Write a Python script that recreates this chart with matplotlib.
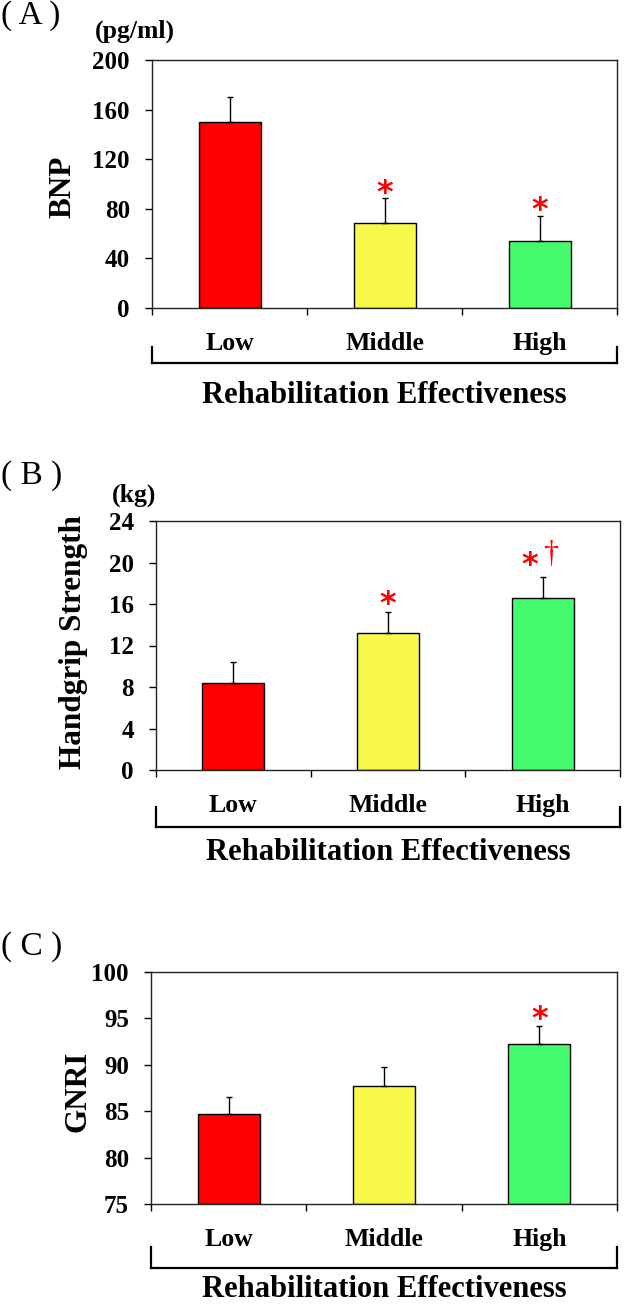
import matplotlib
matplotlib.use("Agg")
import matplotlib.pyplot as plt
from matplotlib.lines import Line2D
from matplotlib.transforms import blended_transform_factory

# ---------------- data ----------------
categories = ["Low", "Middle", "High"]
bar_colors = ["#FF0000", "#F8F84A", "#46FA6E"]

bnp_mean = [150.3, 68.5, 54.0]
bnp_sd = [20.2, 20.4, 20.4]
grip_mean = [8.4, 13.2, 16.6]
grip_sd = [2.05, 2.05, 2.0]
gnri_mean = [84.65, 87.75, 92.2]
gnri_sd = [1.9, 2.05, 2.0]

bnp_ticks = [0, 40, 80, 120, 160, 200]
grip_ticks = [0, 4, 8, 12, 16, 20, 24]
gnri_ticks = [75, 80, 85, 90, 95, 100]

# significance markers: (category index, y value, text)
bnp_sig = [(1, 98.6, "*"), (2, 84.6, "*")]
grip_sig = [(1, 16.7, "*"), (1.918, 20.43, "*")]
gnri_sig = [(2, 95.7, "*")]

W, H = 626, 1304
fig = plt.figure(figsize=(W / 100, H / 100), dpi=100)

SERIF = "Liberation Serif"


def fx(x):
    return x / W


def fy(y):
    return 1 - y / H


def make_panel(rect_px, means, sds, ticks, ylim, ylabel, ylabel_xy, sig,
               letter, letter_y, unit=None, unit_xy=None,
               cat_pad=18, bracket=(0, 0), xlabel_base=0):
    l, t, r, b = rect_px
    ax = fig.add_axes([fx(l), fy(b), fx(r) - fx(l), (b - t) / H])
    x = list(range(len(categories)))
    ax.bar(x, [m - ylim[0] for m in means], bottom=ylim[0], width=0.4,
           color=bar_colors, edgecolor="black", linewidth=1.0, zorder=2)
    ax.errorbar(x, means, yerr=[[0] * len(sds), sds], fmt="none",
                ecolor="black", elinewidth=1.0, capsize=2.5, capthick=1.0,
                zorder=3)
    ax.set_xlim(-0.5, 2.5)
    ax.set_ylim(*ylim)
    ax.set_yticks(ticks)
    ax.set_yticklabels([str(v) for v in ticks], fontfamily=SERIF,
                       fontweight="bold", fontsize=18)
    ax.set_xticks(x)
    ax.set_xticklabels(categories, fontfamily=SERIF, fontweight="bold",
                       fontsize=18.5)
    ax.set_xticks([-0.5, 0.5, 1.5, 2.5], minor=True)
    ax.tick_params(axis="x", which="major", length=0, pad=cat_pad)
    ax.tick_params(axis="x", which="minor", direction="out", length=5,
                   width=1.0)
    ax.tick_params(axis="y", direction="out", length=5, width=1.0, pad=11)
    for s in ax.spines.values():
        s.set_linewidth(1.0)
        s.set_color("#222222")
    # significance markers
    for (i, yv, txt) in sig:
        ax.annotate(txt, xy=(i, yv), xytext=(0, -11.5),
                    textcoords="offset points", ha="center", va="baseline",
                    color="#FF0000", fontsize=23, fontweight="bold",
                    fontfamily="DejaVu Sans", annotation_clip=False)
    # bracket
    y0, y1 = bracket
    tr = blended_transform_factory(ax.transAxes, fig.transFigure)
    for xx in (0, 1):
        fig.add_artist(Line2D([xx, xx], [fy(y0), fy(y1)], transform=tr,
                              color="black", lw=1.6))
    fig.add_artist(Line2D([0, 1], [fy(y1), fy(y1)], transform=tr,
                          color="black", lw=1.6))
    # xlabel
    fig.text(fx((l + r) / 2), fy(xlabel_base), "Rehabilitation Effectiveness",
             ha="center", va="baseline", fontfamily=SERIF, fontweight="bold",
             fontsize=22)
    # ylabel
    fig.text(fx(ylabel_xy[0]), fy(ylabel_xy[1]), ylabel, rotation=90,
             ha="center", va="center", fontfamily=SERIF, fontweight="bold",
             fontsize=22.5)
    # panel letter
    fig.text(fx(1), fy(letter_y), letter, ha="left", va="center",
             fontfamily=SERIF, fontsize=24)
    if unit:
        fig.text(fx(unit_xy[0]), fy(unit_xy[1]), unit, ha="left",
                 va="center", fontfamily=SERIF, fontweight="bold",
                 fontsize=18.5)
    return ax


axA = make_panel((152, 60, 617, 308), bnp_mean, bnp_sd, bnp_ticks, (0, 200),
                 "BNP", (63, 187), bnp_sig, "( A )", 16,
                 unit="(pg/ml)", unit_xy=(95, 31), cat_pad=17,
                 bracket=(347, 363), xlabel_base=403)

axB = make_panel((156, 521, 620, 770), grip_mean, grip_sd, grip_ticks, (0, 24),
                 "Handgrip Strength", (73, 642), grip_sig, "( B )", 476,
                 unit="(kg)", unit_xy=(112, 495), cat_pad=17,
                 bracket=(807, 827), xlabel_base=860)
# dagger beside the asterisk of the High group
axB.annotate("\u2020", xy=(2.0, 20.05), ha="left", va="baseline",
             color="#FF0000", fontsize=22, fontfamily=SERIF,
             annotation_clip=False)

axC = make_panel((151, 972, 617, 1204), gnri_mean, gnri_sd, gnri_ticks,
                 (75, 100), "GNRI", (78, 1091), gnri_sig, "( C )", 947,
                 cat_pad=17, bracket=(1247, 1268), xlabel_base=1297)

fig.savefig("out.png", dpi=100)
